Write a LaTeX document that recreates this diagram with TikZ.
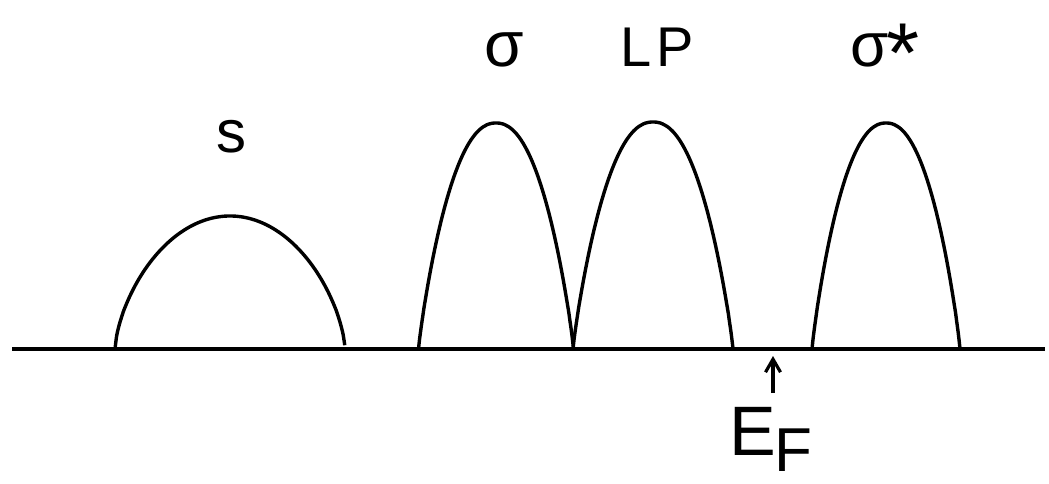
\documentclass[tikz,border=0pt]{standalone}
\usepackage{fontspec}
\setmainfont{Liberation Sans}
\usetikzlibrary{arrows.meta}
\newcommand\dosband[5]{\draw[band] plot[domain=-1:1,samples=140,smooth] ({#1+#2*\x},{349-#3*(max(1-max(abs(\x),0.001)^#4,0.00001))^#5});}
\begin{document}
\begin{tikzpicture}[x=1pt,y=-1pt,
  band/.style={line width=3.4pt, line join=round},
  axis/.style={line width=3.6pt},
  lbl/.style={inner sep=0pt, anchor=base},
  efarrow/.style={line width=3.2pt, -{Straight Barb[length=13pt,width=15pt]}}]
\useasboundingbox (0,0) rectangle (1049,484);
% energy axis
\coordinate (axl) at (12,349);
\coordinate (axr) at (1045,349);
\draw[axis] (axl) -- (axr);
% bands
\dosband{230}{115}{133}{2}{0.65}
\dosband{496}{77.5}{226}{2.2}{0.9}
\dosband{653}{80}{227}{2.2}{0.9}
\dosband{886}{74}{226}{2.2}{0.9}
% labels
\node[lbl, font=\fontsize{60}{60}\selectfont] (s) at (231,153) {s};
\node[lbl, font=\fontsize{64}{64}\selectfont] (sig) at (504,67) {σ};
\node[lbl, font=\fontsize{56}{56}\selectfont] (lp) at (657,67) {L\hspace{5pt}P};
\node[lbl, anchor=base west, font=\fontsize{62}{62}\selectfont] (sigs) at (850,67) {σ\hspace{-2pt}\raisebox{-16pt}{\fontsize{85}{85}\selectfont *}};
% Fermi level
\coordinate (efs) at (773,393);
\coordinate (efe) at (773,356);
\draw[efarrow] (efs) -- (efe);
\node[lbl, anchor=base west, font=\fontsize{70}{70}\selectfont] (e) at (729,455) {E};
\node[lbl, anchor=base west, font=\fontsize{62}{62}\selectfont] (f) at (774,471) {F};
\end{tikzpicture}
\end{document}
